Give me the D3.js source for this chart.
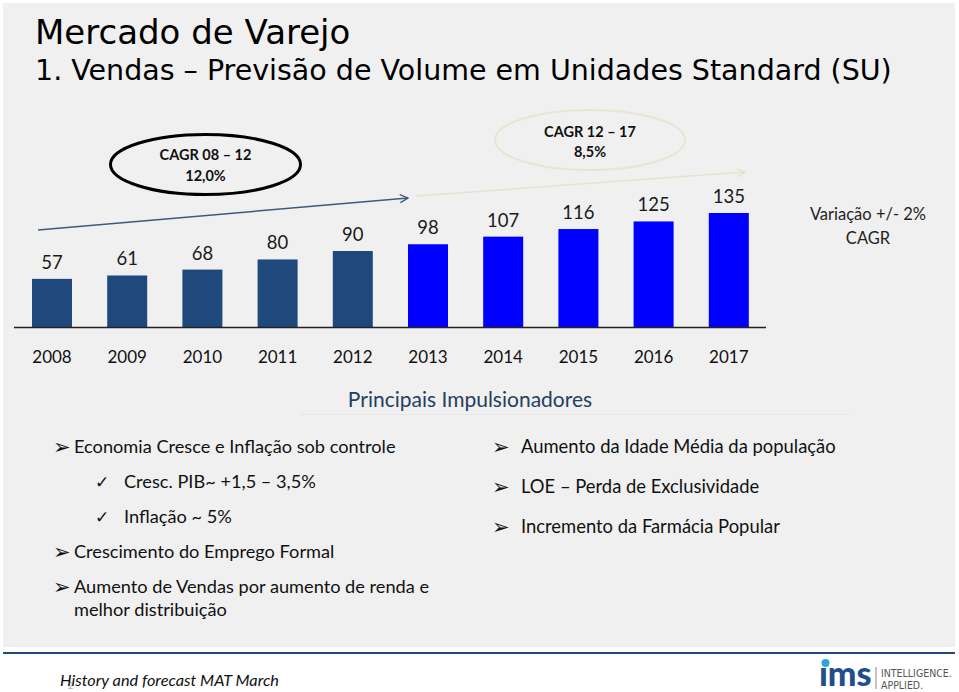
<!DOCTYPE html>
<html>
<head>
<meta charset="utf-8">
<script src="https://cdn.jsdelivr.net/npm/d3@7"></script>
<style>
html,body{margin:0;padding:0;background:#fff;}
svg{display:block;}
</style>
</head>
<body>
<svg id="chart" width="959" height="692"></svg>
<script>
// ---- data ----
const years = ["2008","2009","2010","2011","2012","2013","2014","2015","2016","2017"];
const volumes = [57, 61, 68, 80, 90, 98, 107, 116, 125, 135];
const forecastFrom = "2013";
const titleLines = ["Mercado de Varejo", "1. Vendas \u2013 Previs\u00e3o de Volume em Unidades Standard (SU)"];
const cagrHist = ["CAGR 08 \u2013 12", "12,0%"];
const cagrFcst = ["CAGR 12 \u2013 17", "8,5%"];
const variationNote = ["Varia\u00e7\u00e3o +/- 2%", "CAGR"];
const driversTitle = "Principais Impulsionadores";
const leftDrivers = [
  {type:"arrow", text:"Economia Cresce e Infla\u00e7\u00e3o sob controle"},
  {type:"check", text:"Cresc. PIB~ +1,5 \u2013 3,5%"},
  {type:"check", text:"Infla\u00e7\u00e3o ~ 5%"},
  {type:"arrow", text:"Crescimento do Emprego Formal"},
  {type:"arrow", text:"Aumento de Vendas por aumento de renda e"},
  {type:"cont",  text:"melhor distribui\u00e7\u00e3o"}
];
const rightDrivers = [
  "Aumento da Idade M\u00e9dia da popula\u00e7\u00e3o",
  "LOE \u2013 Perda de Exclusividade",
  "Incremento da Farm\u00e1cia Popular"
];
const footerNote = "History and forecast MAT March";

// ---- drawing ----
const svg = d3.select("#chart");
const sans = "Lato, 'Open Sans', sans-serif";

svg.append("rect").attr("x",3).attr("y",3).attr("width",952).attr("height",644).attr("fill","#f0f0f0");

// title
svg.append("text").attr("x",35).attr("y",44).attr("font-family","'DejaVu Sans', Verdana, sans-serif")
  .attr("font-size",34).attr("fill","#000").text(titleLines[0]);
svg.append("text").attr("x",35).attr("y",80).attr("font-family","'DejaVu Sans', Verdana, sans-serif")
  .attr("font-size",28.5).attr("fill","#000").text(titleLines[1]);

// scales
const x = d3.scaleBand().domain(years).range([14.4, 766.4]).paddingInner(0.468).paddingOuter(0.234);
const y = d3.scaleLinear().domain([0, 135]).range([327, 213]);

const data = years.map((yr,i)=>({year:yr, v:volumes[i]}));
const fi = years.indexOf(forecastFrom);

svg.append("g").selectAll("rect").data(data).join("rect")
  .attr("x", d=>x(d.year)).attr("width", x.bandwidth())
  .attr("y", d=>y(d.v)).attr("height", d=>y(0)-y(d.v))
  .attr("fill", (d,i)=> i < fi ? "#1f497d" : "#0000ff");

svg.append("g").selectAll("text").data(data).join("text")
  .attr("x", d=>x(d.year)+x.bandwidth()/2).attr("y", d=>y(d.v)-10)
  .attr("text-anchor","middle").attr("font-family",sans).attr("font-size",18.5).attr("fill","#1a1a1a")
  .text(d=>d.v);

// axis
const xAxis = svg.append("g").attr("transform",`translate(0,${y(0)})`)
  .call(d3.axisBottom(x).tickSize(0).tickPadding(0));
xAxis.select(".domain").attr("d","M14,0.5H766").attr("stroke","#222").attr("stroke-width",1.5);
xAxis.selectAll(".tick text").attr("y",36).attr("dy",0).attr("font-family",sans).attr("font-size",17).attr("fill","#111");

// arrows
const defs = svg.append("defs");
function marker(id, color){
  defs.append("marker").attr("id",id).attr("viewBox","0 0 10 10").attr("refX",9).attr("refY",5)
    .attr("markerWidth",10).attr("markerHeight",10).attr("markerUnits","userSpaceOnUse").attr("orient","auto")
    .append("path").attr("d","M1,1 L9,5 L1,9").attr("fill","none").attr("stroke",color).attr("stroke-width",1.3);
}
marker("a1","#3d5a7c");
marker("a2","#e6e2cf");
svg.append("line").attr("x1",38).attr("y1",230).attr("x2",408).attr("y2",198)
  .attr("stroke","#3d5a7c").attr("stroke-width",1.5).attr("marker-end","url(#a1)");
svg.append("line").attr("x1",416).attr("y1",196).attr("x2",745).attr("y2",172)
  .attr("stroke","#e6e2cf").attr("stroke-width",1.5).attr("marker-end","url(#a2)");

// ellipses
svg.append("ellipse").attr("cx",205.5).attr("cy",164.5).attr("rx",95).attr("ry",30)
  .attr("fill","none").attr("stroke","#000").attr("stroke-width",3);
svg.append("ellipse").attr("cx",590).attr("cy",140).attr("rx",95).attr("ry",30)
  .attr("fill","none").attr("stroke","#e8e5d3").attr("stroke-width",2);
cagrHist.forEach((t,i)=> svg.append("text").attr("x",205.5).attr("y",160+i*21).attr("text-anchor","middle")
  .attr("font-family",sans).attr("font-weight","bold").attr("font-size",14.5).attr("fill","#111").text(t));
cagrFcst.forEach((t,i)=> svg.append("text").attr("x",590).attr("y",137+i*20).attr("text-anchor","middle")
  .attr("font-family",sans).attr("font-weight","bold").attr("font-size",14.5).attr("fill","#111").text(t));

variationNote.forEach((t,i)=> svg.append("text").attr("x",868).attr("y",220+i*24).attr("text-anchor","middle")
  .attr("font-family",sans).attr("font-size",16.5).attr("fill","#222").text(t));

// drivers
svg.append("text").attr("x",470).attr("y",407).attr("text-anchor","middle").attr("font-family",sans)
  .attr("font-size",21).attr("fill","#243f60").text(driversTitle);
svg.append("line").attr("x1",300).attr("x2",850).attr("y1",414.5).attr("y2",414.5).attr("stroke","#e6e6e6").attr("stroke-width",1);

const bulletFont = "'DejaVu Sans', sans-serif";
const leftY = [447, 482, 517, 552, 587, 610];
leftDrivers.forEach((d,i)=>{
  const by = leftY[i] + 6;
  if(d.type==="arrow"){
    svg.append("text").attr("x",53).attr("y",by+1).attr("font-family",bulletFont).attr("font-size",21).attr("fill","#111").text("\u27a2");
  } else if(d.type==="check"){
    svg.append("text").attr("x",95).attr("y",by).attr("font-family",bulletFont).attr("font-size",17).attr("fill","#111").text("\u2713");
  }
  svg.append("text").attr("x", d.type==="check"?124:74).attr("y",by).attr("font-family",sans)
    .attr("font-size",18.2).attr("fill","#111").text(d.text);
});
const rightY = [447, 487, 527];
rightDrivers.forEach((t,i)=>{
  const by = rightY[i]+6;
  svg.append("text").attr("x",492).attr("y",by+1).attr("font-family",bulletFont).attr("font-size",21).attr("fill","#111").text("\u27a2");
  svg.append("text").attr("x",521).attr("y",by).attr("font-family",sans).attr("font-size",18.4).attr("fill","#111").text(t);
});

// footer
svg.append("line").attr("x1",3).attr("x2",955).attr("y1",653).attr("y2",653).attr("stroke","#1f497d").attr("stroke-width",2);
svg.append("text").attr("x",68).attr("y",689).attr("font-family",sans).attr("font-size",9).attr("fill","#aaa").text("2");
svg.append("text").attr("x",60).attr("y",686).attr("font-family",sans).attr("font-style","italic")
  .attr("font-size",16.3).attr("fill","#111").text(footerNote);

// logo
svg.append("text").attr("x",819).attr("y",686).attr("font-family",sans).attr("font-weight",900)
  .attr("font-size",34).attr("fill","#1f4e8c").text("\u0131ms");
svg.append("circle").attr("cx",825.5).attr("cy",663).attr("r",4).attr("fill","#2aa6dc");
svg.append("line").attr("x1",876).attr("x2",876).attr("y1",667).attr("y2",689).attr("stroke","#888").attr("stroke-width",1);
svg.append("text").attr("x",881).attr("y",677).attr("font-family","'Liberation Sans Narrow', 'DejaVu Sans Condensed', sans-serif").attr("font-size",10.5).attr("fill","#555").text("INTELLIGENCE.");
svg.append("text").attr("x",881).attr("y",689).attr("font-family","'Liberation Sans Narrow', 'DejaVu Sans Condensed', sans-serif").attr("font-size",10.5).attr("fill","#555").text("APPLIED.");
</script>
</body>
</html>
